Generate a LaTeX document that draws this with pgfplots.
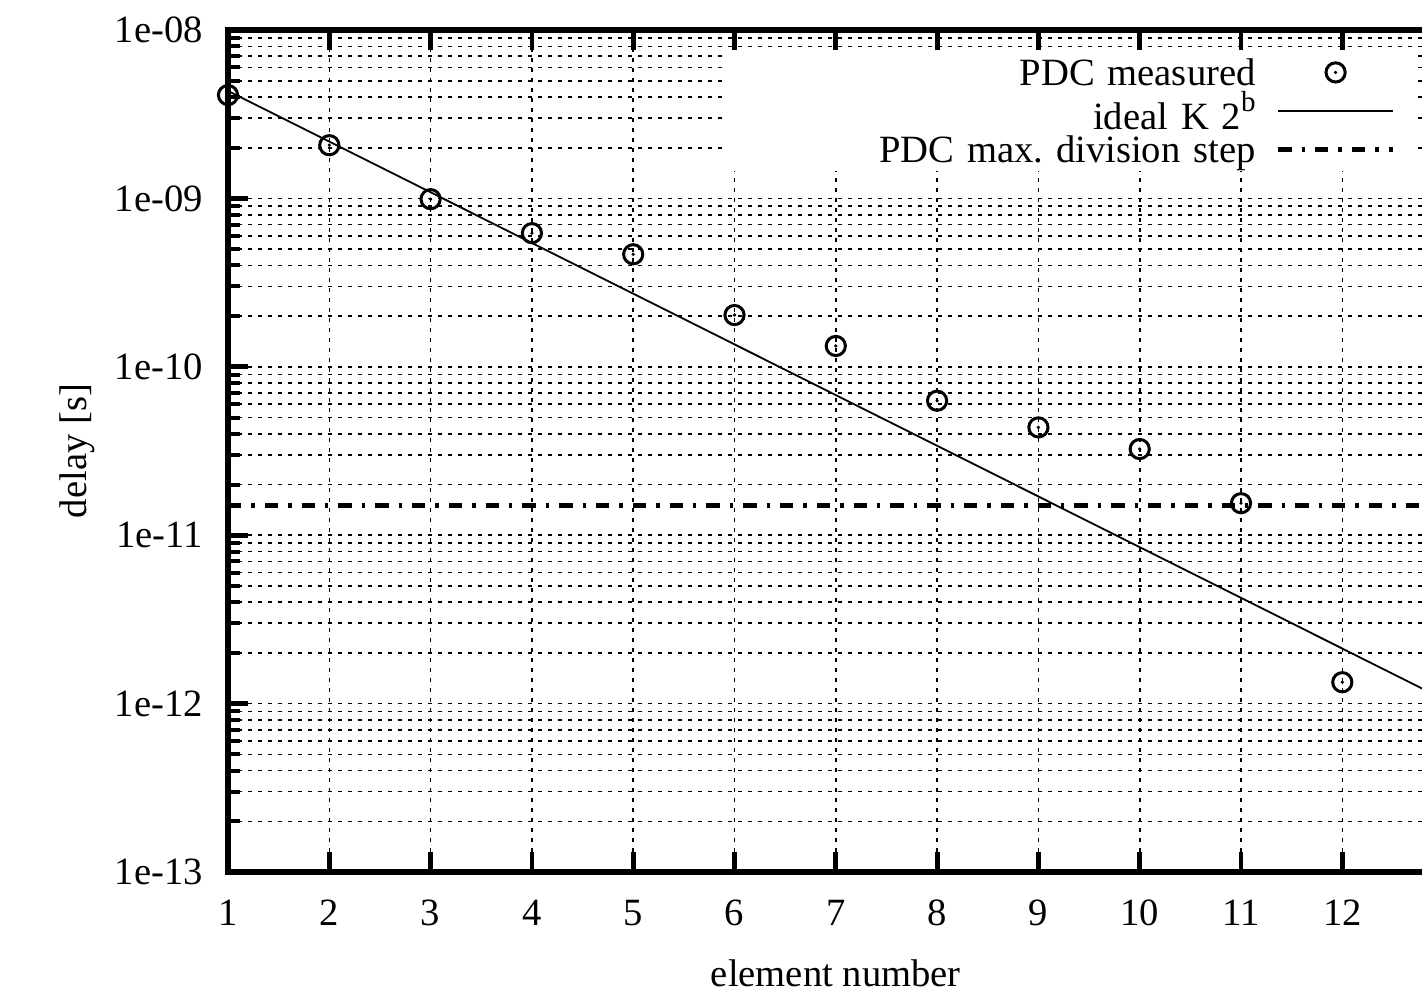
\documentclass[border=0pt]{standalone}
\usepackage{fontspec}
\setmainfont{Liberation Serif}
\usepackage{pgfplots}
\pgfplotsset{compat=1.18}

\pgfdeclareplotmark{odot}{%
  \pgfpathcircle{\pgfpointorigin}{\pgfplotmarksize}\pgfusepathqstroke
  \pgfpathcircle{\pgfpointorigin}{0.9pt}\pgfusepathqfill}

\pgfplotsset{
  marklegend/.style={legend image code/.code={\draw[mark repeat=2,mark phase=2,##1] plot coordinates {(0pt,0pt) (28.75pt,0pt) (57.5pt,0pt)};}},
  linelegend/.style={legend image code/.code={\draw[##1] (0pt,0pt) -- (57.5pt,0pt);}},
}

\begin{document}
\fontsize{19.3}{23}\selectfont
\begin{tikzpicture}
\begin{axis}[
  at={(0,0)}, anchor=south west,
  scale only axis, width=607.8pt, height=421pt,
  ymode=log,
  xmin=1, xmax=13, ymin=1e-13, ymax=1e-8,
  xtick={1,2,3,4,5,6,7,8,9,10,11,12},
  xticklabels={1,2,3,4,5,6,7,8,9,10,11,12},
  ytick={1e-13,1e-12,1e-11,1e-10,1e-9,1e-8},
  yticklabels={1e-13,1e-12,1e-11,1e-10,1e-09,1e-08},
  minor ytick={2e-13,3e-13,4e-13,5e-13,6e-13,7e-13,8e-13,9e-13,
               2e-12,3e-12,4e-12,5e-12,6e-12,7e-12,8e-12,9e-12,
               2e-11,3e-11,4e-11,5e-11,6e-11,7e-11,8e-11,9e-11,
               2e-10,3e-10,4e-10,5e-10,6e-10,7e-10,8e-10,9e-10,
               2e-9,3e-9,4e-9,5e-9,6e-9,7e-9,8e-9,9e-9},
  grid=both,
  grid style={black, line width=0.8pt, dash pattern=on 2pt off 3pt},
  tick align=inside,
  major tick length=10pt,
  minor tick length=6pt,
  major tick style={black, line width=2.4pt},
  minor tick style={black, line width=2pt},
  axis line style={line width=3pt},
  xticklabel style={anchor=base, yshift=-26.85pt},
  yticklabel style={inner xsep=0pt, xshift=-12.4pt},
  xlabel={element number},
  ylabel={delay [s]},
  xlabel style={at={(axis description cs:0.5,0)}, anchor=base, yshift=-57pt},
  ylabel style={at={(axis description cs:-0.11624,0.5)}, anchor=base},
  legend style={
    at={(rel axis cs:0.9773,0.97625)}, anchor=north east,
    draw=none, fill=white,
    inner xsep=10pt, inner ysep=1.5pt,
    row sep=0.25pt, column sep=10pt,
    nodes={text width=256.5pt, align=right, inner xsep=0pt, inner ysep=0pt,
           text height=16.1pt, text depth=2.9pt},
  },
  legend plot pos=right,
  legend cell align=right,
]
\addplot[only marks, mark=odot, mark size=4.8pt, line width=1.5pt, black, marklegend]
coordinates {(1,4.11e-9) (2,2.07e-9) (3,9.9e-10) (4,6.22e-10) (5,4.66e-10) (6,2.03e-10)
             (7,1.33e-10) (8,6.29e-11) (9,4.37e-11) (10,3.25e-11) (11,1.55e-11) (12,1.34e-12)};
\addlegendentry{PDC measured}

\addplot[black, no marks, line width=0.9pt, linelegend]
coordinates {(1,4.35e-9) (2,2.175e-9) (3,1.0875e-9) (4,5.4375e-10) (5,2.71875e-10)
             (6,1.359375e-10) (7,6.796875e-11) (8,3.3984375e-11) (9,1.69921875e-11)
             (10,8.49609375e-12) (11,4.248046875e-12) (12,2.1240234375e-12) (13,1.06201171875e-12)};
\addlegendentry{\raisebox{-2.5pt}{ideal K 2\raisebox{9pt}{\fontsize{14.5}{14.5}\selectfont b}}}

\addplot[black, no marks, line width=2.5pt, dash pattern=on 6.7pt off 5pt on 1.7pt off 5pt, linelegend]
coordinates {(1,1.5e-11) (13,1.5e-11)};
\addlegendentry{PDC max.\ division step}
\end{axis}
\pgfresetboundingbox
\useasboundingbox (-114pt,-59.5pt) rectangle (597pt,436pt);
\end{tikzpicture}
\end{document}
